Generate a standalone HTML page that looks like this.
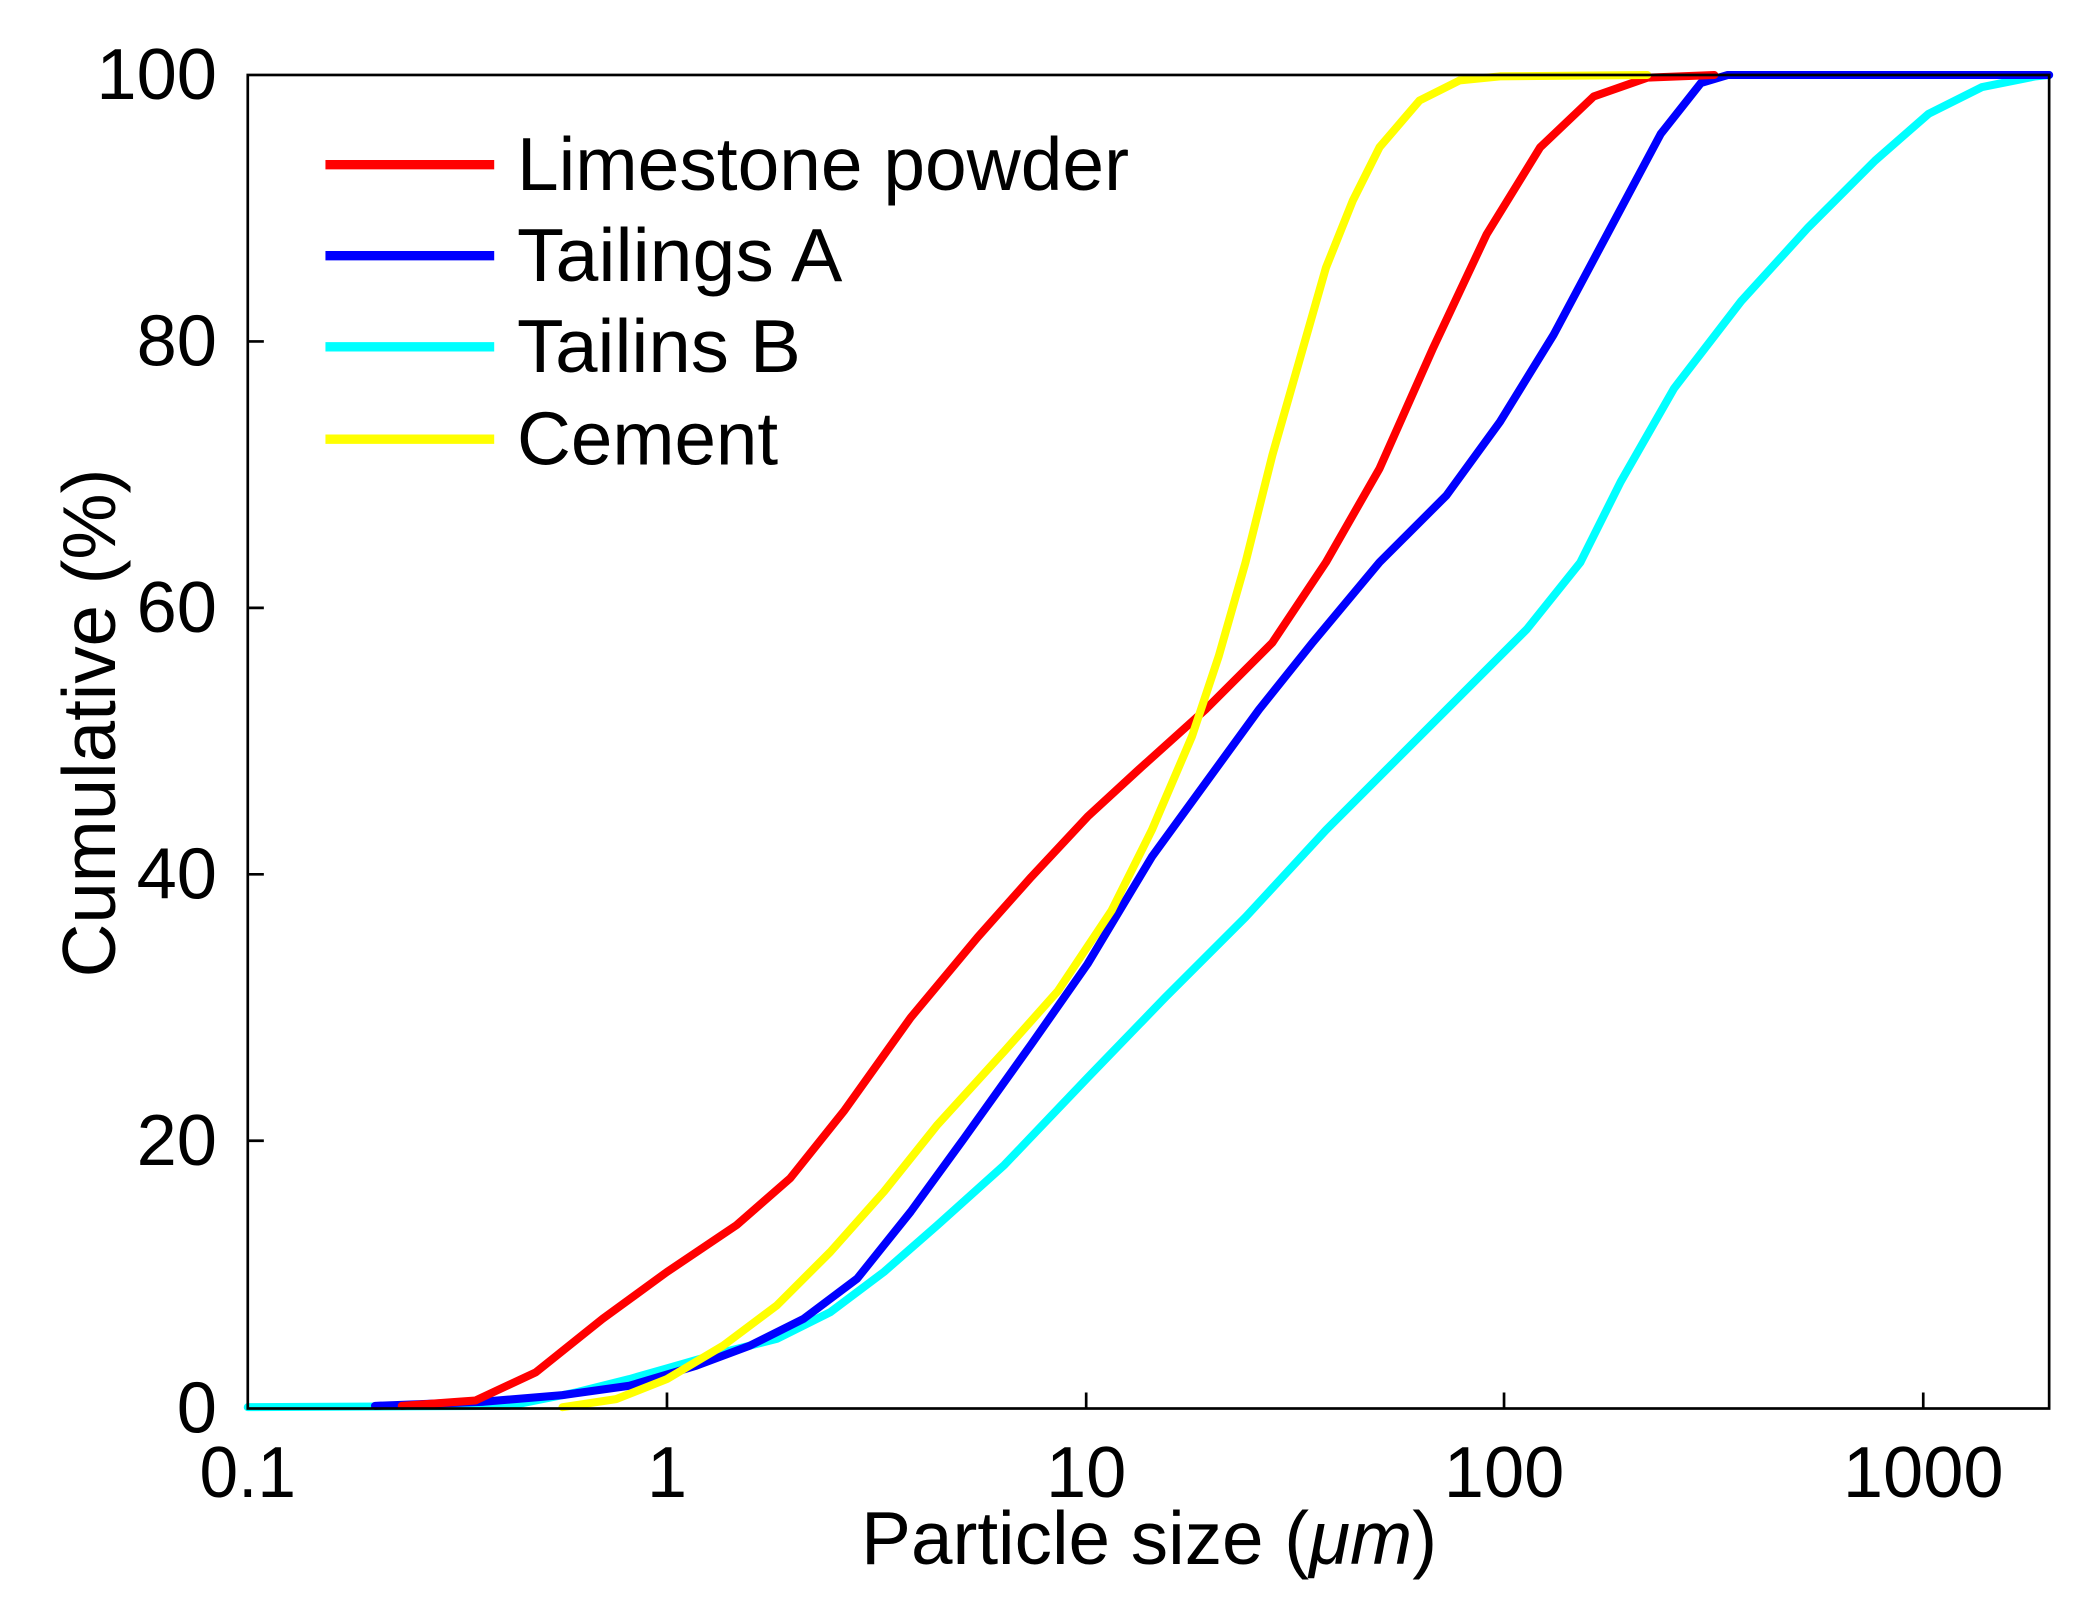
<!DOCTYPE html>
<html><head><meta charset="utf-8"><style>html,body{margin:0;padding:0;background:#fff}svg{display:block}</style></head>
<body>
<svg width="2092" height="1608" viewBox="0 0 1562 1201" preserveAspectRatio="none" xmlns="http://www.w3.org/2000/svg" font-family="Liberation Sans, Arial, sans-serif">
<rect width="1562" height="1201" fill="#fff"/>
<g fill="none" stroke-width="6" stroke-linejoin="round" stroke-linecap="round">
<polyline stroke="#00ffff" points="185,1051 380,1050 430,1040 470,1030 498,1022 540,1010 580,1000 620,980 660,950 700,915 750,870 812,805 870,745 930,685 990,620 1040,570 1080,530 1140,470 1180,420 1210,360 1250,290 1300,225 1350,170 1400,120 1440,85 1480,65 1520,57 1530,56"/>
<polyline stroke="#0000ff" points="280,1050 360,1047 420,1042 470,1035 520,1020 560,1005 600,985 640,955 680,905 720,850 770,780 812,720 860,640 900,585 940,530 980,480 1030,420 1080,370 1120,315 1160,250 1200,175 1240,100 1270,62 1290,56 1530,56"/>
<polyline stroke="#ff0000" points="300,1050 355,1046 400,1025 450,985 498,950 550,915 590,880 630,830 680,760 730,700 770,655 812,610 850,575 900,530 950,480 990,420 1030,350 1070,260 1110,175 1150,110 1190,72 1230,58 1280,56"/>
<polyline stroke="#ffff00" points="420,1051 460,1045 498,1030 540,1005 580,975 620,935 660,890 700,840 750,785 790,740 830,680 860,620 890,550 910,490 930,420 950,340 970,270 990,200 1010,150 1030,110 1060,75 1090,60 1120,57 1230,56"/>
</g>
<g stroke="#000" stroke-width="2" fill="none">
<rect x="185" y="56" width="1345" height="996"/>
<path d="M498,1052v-12M811,1052v-12M1123,1052v-12M1436,1052v-12M185,852h12M185,653h12M185,454h12M185,255h12"/>
</g>
<g font-size="54" fill="#000">
<g text-anchor="end">
<text x="162" y="74" textLength="90" lengthAdjust="spacingAndGlyphs">100</text>
<text x="162" y="273" textLength="60" lengthAdjust="spacingAndGlyphs">80</text>
<text x="162" y="472" textLength="60" lengthAdjust="spacingAndGlyphs">60</text>
<text x="162" y="671" textLength="60" lengthAdjust="spacingAndGlyphs">40</text>
<text x="162" y="870" textLength="60" lengthAdjust="spacingAndGlyphs">20</text>
<text x="162" y="1070" textLength="30" lengthAdjust="spacingAndGlyphs">0</text>
</g>
<g text-anchor="middle">
<text x="185" y="1118" textLength="72" lengthAdjust="spacingAndGlyphs">0.1</text>
<text x="498" y="1118">1</text>
<text x="811" y="1118" textLength="60" lengthAdjust="spacingAndGlyphs">10</text>
<text x="1123" y="1118" textLength="90" lengthAdjust="spacingAndGlyphs">100</text>
<text x="1436" y="1118" textLength="120" lengthAdjust="spacingAndGlyphs">1000</text>
</g>
<text x="643" y="1168" font-size="56" textLength="430" lengthAdjust="spacingAndGlyphs">Particle size (<tspan font-style="italic">μm</tspan>)</text>
<text transform="translate(86,540) rotate(-90)" text-anchor="middle" font-size="56" textLength="380" lengthAdjust="spacingAndGlyphs">Cumulative (%)</text>
</g>
<g stroke-width="7">
<line x1="243" y1="123" x2="369" y2="123" stroke="#ff0000"/>
<line x1="243" y1="191" x2="369" y2="191" stroke="#0000ff"/>
<line x1="243" y1="259" x2="369" y2="259" stroke="#00ffff"/>
<line x1="243" y1="328" x2="369" y2="328" stroke="#ffff00"/>
</g>
<g font-size="56" fill="#000">
<text x="386" y="142" textLength="457" lengthAdjust="spacingAndGlyphs">Limestone powder</text>
<text x="386" y="210" textLength="243" lengthAdjust="spacingAndGlyphs">Tailings A</text>
<text x="386" y="278" textLength="212" lengthAdjust="spacingAndGlyphs">Tailins B</text>
<text x="386" y="347" textLength="195" lengthAdjust="spacingAndGlyphs">Cement</text>
</g>
</svg>
</body></html>
